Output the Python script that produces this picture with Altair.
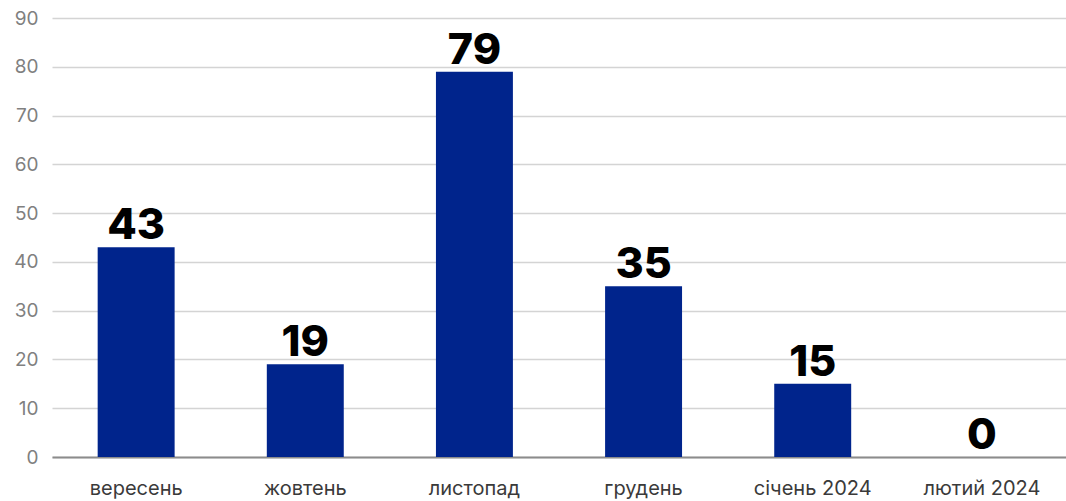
import altair as alt
import pandas as pd

months = ["вересень", "жовтень", "листопад", "грудень", "січень 2024", "лютий 2024"]
counts = [43, 19, 79, 35, 15, 0]

df = pd.DataFrame({"month": months, "count": counts})

x = alt.X("month:N", sort=months, title=None,
          scale=alt.Scale(paddingInner=0.545, paddingOuter=0.27),
          axis=alt.Axis(labelAngle=0, ticks=False, domainColor="#8c8c8c", domainWidth=2,
                        labelFontSize=20, labelColor="#3a3a3a", labelPadding=21,
                        labelFont="Inter", grid=False))
y = alt.Y("count:Q", title=None,
          scale=alt.Scale(domain=[0, 90], nice=False),
          axis=alt.Axis(values=list(range(0, 91, 10)), ticks=False, domain=False,
                        labelFontSize=19, labelColor="#808080", labelPadding=14,
                        labelFont="Inter", gridColor="#d4d4d4", gridWidth=1.5))

bars = alt.Chart(df).mark_bar(color="#00248C").encode(x=x, y=y)
labels = alt.Chart(df).mark_text(font="Inter", fontWeight=800, fontSize=43,
                                 baseline="alphabetic", dy=-8, color="#000000").encode(
    x=alt.X("month:N", sort=months), y="count:Q", text="count:Q")

chart = (bars + labels).properties(
    width=1014, height=439,
    autosize=alt.AutoSizeParams(type="none"),
    padding={"left": 52, "top": 18, "right": 0, "bottom": 44},
).configure_view(stroke=None)

chart.save("out.html", embed_options={"renderer": "svg", "actions": False})
